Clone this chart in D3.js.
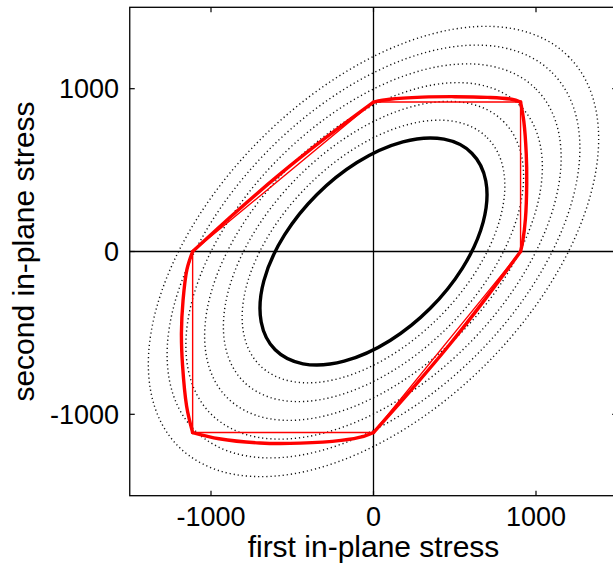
<!DOCTYPE html>
<html><head><meta charset="utf-8">
<script src="https://cdn.jsdelivr.net/npm/d3@7"></script>
<style>body{margin:0;background:#fff}svg{display:block}text{font-family:"Liberation Sans",Arial,sans-serif;fill:#000}</style>
</head><body>
<script>
// ---- data ----
const xTicks = [-1000, 0, 1000];
const yTicks = [-1000, 0, 1000];
const xLabel = "first in-plane stress";
const yLabel = "second in-plane stress";
const dottedLevels = [700, 800, 900, 1000, 1100, 1200];   // x^2 - xy + y^2 = k^2
const solidLevel = 605;
const yieldPolygon = [[-1113,0],[0,918],[905,918],[905,0],[0,-1112],[-1113,-1112]];
const edgeUL = [[-1113,0],[-846,243],[-572,478],[-290,702],[0,918]];
const edgeTop = [[0,918],[100,935],[300,948],[500,951],[700,947],[850,935],[905,918]];
const edgeRight = [[905,918],[925,800],[940,600],[943,420],[935,200],[918,60],[905,0]];
const edgeLR = [[905,0],[691,-288],[470,-570],[238,-844],[0,-1112]];
const edgeBottom = [[0,-1112],[-60,-1135],[-200,-1160],[-450,-1177],[-700,-1176],[-950,-1150],[-1113,-1112]];
const edgeLeft = [[-1113,-1112],[-1150,-950],[-1175,-700],[-1182,-500],[-1172,-300],[-1148,-110],[-1113,0]];
const redEdges = [edgeUL, edgeTop, edgeRight, edgeLR, edgeBottom, edgeLeft];

// ---- chart ----
const W = 613, H = 566;
const x = d3.scaleLinear().domain([-1500,1500]).range([129.75, 617.25]);
const y = d3.scaleLinear().domain([-1500,1500]).range([495.7, 7.3]);
const svg = d3.select("body").append("svg").attr("width", W).attr("height", H);

svg.append("defs").append("clipPath").attr("id","clip")
  .append("rect").attr("x", x(-1500)).attr("y", y(1500))
  .attr("width", x(1500)-x(-1500)).attr("height", y(-1500)-y(1500));

const g = svg.append("g").attr("clip-path","url(#clip)");
const cx = x(0), cy = y(0);

function ell(k){
  return {rx: x(k*Math.SQRT2)-x(0), ry: x(k*Math.sqrt(2/3))-x(0)};
}
g.selectAll("ellipse.dot").data(dottedLevels).join("ellipse")
  .attr("class","dot")
  .attr("cx",cx).attr("cy",cy)
  .attr("rx",d=>ell(d).rx).attr("ry",d=>ell(d).ry)
  .attr("transform",`rotate(-45,${cx},${cy})`)
  .attr("fill","none").attr("stroke","#111").attr("stroke-width",1.4)
  .attr("stroke-dasharray","1.2,2.9");

// axes lines through origin
g.append("line").attr("x1",x(-1500)).attr("x2",x(1500)).attr("y1",y(0)).attr("y2",y(0))
  .attr("stroke","#000").attr("stroke-width",1.3);
g.append("line").attr("x1",x(0)).attr("x2",x(0)).attr("y1",y(-1500)).attr("y2",y(1500))
  .attr("stroke","#000").attr("stroke-width",1.3);

g.append("ellipse").attr("cx",cx).attr("cy",cy)
  .attr("rx",ell(solidLevel).rx).attr("ry",ell(solidLevel).ry)
  .attr("transform",`rotate(-45,${cx},${cy})`)
  .attr("fill","none").attr("stroke","#000").attr("stroke-width",3.4);

// red yield polygon (thin)
g.append("path").datum(yieldPolygon)
  .attr("d", d3.line().x(d=>x(d[0])).y(d=>y(d[1])).curve(d3.curveLinearClosed))
  .attr("fill","none").attr("stroke","#ff0000").attr("stroke-width",1.4);

// red curved surface (thick)
const cl = d3.line().x(d=>x(d[0])).y(d=>y(d[1])).curve(d3.curveCatmullRom.alpha(0.5));
g.selectAll("path.redc").data(redEdges).join("path").attr("class","redc")
  .attr("d", cl).attr("fill","none").attr("stroke","#ff0000")
  .attr("stroke-width",3.4).attr("stroke-linejoin","round").attr("stroke-linecap","round");

// frame
svg.append("rect").attr("x", x(-1500)).attr("y", y(1500))
  .attr("width", x(1500)-x(-1500)).attr("height", y(-1500)-y(1500))
  .attr("fill","none").attr("stroke","#000").attr("stroke-width",1.3);

// ticks
const tl = 5;
const tk = svg.append("g").attr("stroke","#000").attr("stroke-width",1.2);
xTicks.forEach(t=>{
  tk.append("line").attr("x1",x(t)).attr("x2",x(t)).attr("y1",y(-1500)).attr("y2",y(-1500)-tl);
  tk.append("line").attr("x1",x(t)).attr("x2",x(t)).attr("y1",y(1500)).attr("y2",y(1500)+tl);
});
yTicks.forEach(t=>{
  tk.append("line").attr("x1",x(-1500)).attr("x2",x(-1500)+tl).attr("y1",y(t)).attr("y2",y(t));
  tk.append("line").attr("x1",x(1500)).attr("x2",x(1500)-tl).attr("y1",y(t)).attr("y2",y(t));
});

// tick labels
svg.selectAll("text.xt").data(xTicks).join("text").attr("class","xt")
  .attr("x",d=>x(d)).attr("y",526).attr("text-anchor","middle")
  .attr("font-size",27).text(d=>d);
svg.selectAll("text.yt").data(yTicks).join("text").attr("class","yt")
  .attr("x",119).attr("y",d=>y(d)).attr("dy","0.36em").attr("text-anchor","end")
  .attr("font-size",27).text(d=>d);

svg.append("text").attr("x", x(0)).attr("y",557).attr("text-anchor","middle")
  .attr("font-size",30).text(xLabel);
svg.append("text").attr("transform",`translate(34,${y(0)}) rotate(-90)`)
  .attr("text-anchor","middle").attr("font-size",30).text(yLabel);
</script>
</body></html>
